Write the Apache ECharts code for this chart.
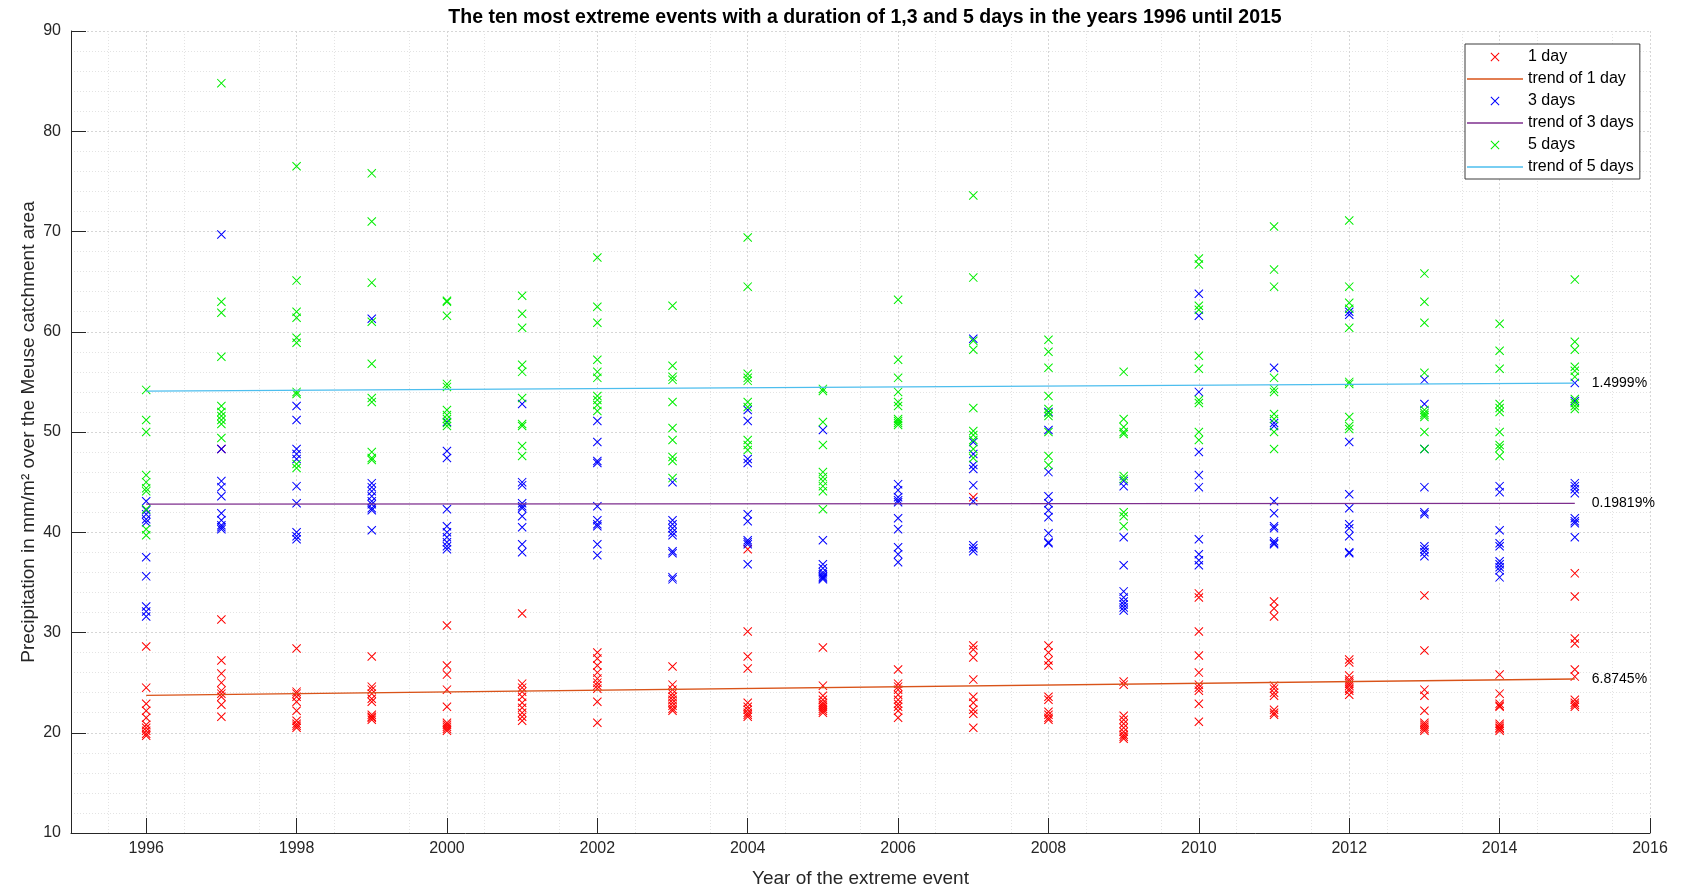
<!DOCTYPE html>
<html><head><meta charset="utf-8">
<script src="https://cdn.jsdelivr.net/npm/echarts@6/dist/echarts.min.js"></script>
<style>html,body{margin:0;padding:0;background:#fff}#c{width:1685px;height:890px}</style>
</head><body><div id="c"></div>
<script>
const years = [1996,1997,1998,1999,2000,2001,2002,2003,2004,2005,2006,2007,2008,2009,2010,2011,2012,2013,2014,2015];
const xTickLabels = [1996,1998,2000,2002,2004,2006,2008,2010,2012,2014,2016];
const yTickLabels = [10,20,30,40,50,60,70,80,90];

const oneDay = [
[28.6,24.5,22.9,22.2,21.5,20.8,20.5,20.2,19.9,19.7],
[48.3,31.3,27.2,25.9,25.0,24.2,23.9,23.6,22.8,21.6],
[28.4,24.1,23.9,23.6,23.1,22.2,21.2,20.9,20.7,20.5],
[27.6,24.6,24.3,23.9,23.4,23.1,21.8,21.6,21.5,21.3],
[30.7,26.7,25.8,24.3,22.6,21.0,20.8,20.6,20.4,20.2],
[31.9,24.9,24.5,24.1,23.6,23.0,22.5,22.0,21.6,21.2],
[28.0,27.4,26.7,26.0,25.4,25.0,24.7,24.4,23.1,21.0],
[26.6,24.8,24.3,23.9,23.6,23.3,23.0,22.7,22.4,22.2],
[38.3,30.1,27.6,26.4,23.0,22.6,22.3,22.0,21.8,21.6],
[28.5,24.7,23.7,23.3,23.0,22.8,22.6,22.4,22.2,22.0],
[26.3,24.9,24.6,24.3,23.8,23.3,22.9,22.6,22.2,21.5],
[43.5,28.7,28.3,27.5,25.3,23.6,23.0,22.3,21.9,20.5],
[28.7,28.0,27.2,26.7,23.6,23.3,22.1,21.8,21.5,21.3],
[25.1,24.8,21.7,21.3,20.9,20.5,20.1,19.8,19.6,19.4],
[33.9,33.5,30.1,27.7,26.0,24.8,24.5,24.2,22.9,21.1],
[33.1,32.4,31.6,24.7,24.4,24.0,23.7,22.3,22.0,21.8],
[27.3,27.0,25.7,25.3,25.1,24.9,24.7,24.4,24.2,23.8],
[33.7,28.2,24.3,23.7,22.2,21.0,20.8,20.6,20.4,20.2],
[25.8,23.9,22.9,22.7,22.6,20.9,20.7,20.5,20.4,20.2],
[35.9,33.6,29.4,28.9,26.3,25.6,23.3,23.0,22.8,22.6]
];
const threeDays = [
[43.1,42.2,41.8,41.3,41.0,37.5,35.6,32.6,32.1,31.6],
[69.7,48.3,45.1,44.5,43.6,41.9,41.2,40.7,40.5,40.3],
[52.6,51.2,48.3,47.8,47.3,44.6,42.9,40.0,39.6,39.3],
[61.3,44.9,44.5,44.1,43.6,43.1,42.8,42.4,42.2,40.2],
[51.0,48.1,47.4,42.3,40.6,40.0,39.5,39.0,38.6,38.3],
[52.8,45.0,44.7,42.9,42.6,42.4,41.6,40.5,38.8,38.0],
[51.1,49.0,47.1,46.9,42.6,41.2,40.8,40.6,38.8,37.7],
[45.0,41.2,40.8,40.4,40.0,39.7,38.1,37.9,35.5,35.3],
[52.2,51.1,47.3,46.9,41.8,41.1,39.2,39.0,38.8,36.8],
[50.2,39.2,36.8,36.4,36.0,35.8,35.6,35.5,35.4,35.3],
[44.8,44.2,43.5,43.2,43.0,41.4,40.3,38.5,37.8,37.0],
[59.3,49.0,47.8,46.7,46.3,44.7,43.1,38.7,38.4,38.1],
[52.0,50.2,46.0,43.6,42.9,42.2,41.5,39.9,39.0,38.9],
[45.1,44.6,39.5,36.7,34.1,33.5,33.1,32.8,32.5,32.2],
[63.8,61.6,54.0,48.0,45.7,44.5,39.3,37.8,37.2,36.7],
[56.4,50.9,50.6,43.1,41.9,40.6,40.4,39.1,38.9,38.8],
[62.0,61.7,49.0,43.8,42.4,40.8,40.4,39.6,38.0,37.9],
[55.2,52.8,48.3,44.5,42.0,41.8,38.6,38.3,38.0,37.6],
[44.6,44.0,40.2,38.9,38.6,37.1,36.8,36.5,36.2,35.5],
[54.9,53.1,44.9,44.6,44.3,43.9,41.4,41.1,40.9,39.5]
];
const fiveDays = [
[54.2,51.2,50.0,45.7,45.0,44.4,44.1,42.3,40.3,39.7],
[84.8,63.0,61.9,57.5,52.6,52.0,51.6,51.2,50.8,49.4],
[76.5,65.1,62.0,61.4,59.4,58.9,54.0,53.8,46.8,46.4],
[75.8,71.0,64.9,61.0,56.8,53.4,53.0,48.0,47.4,47.2],
[63.1,63.0,61.6,54.8,54.5,52.2,51.7,51.3,50.9,50.6],
[63.6,61.8,60.4,56.7,56.0,53.4,50.8,50.6,48.6,47.6],
[67.4,62.5,60.9,57.2,56.0,55.4,53.6,53.2,52.7,52.1],
[62.6,56.6,55.5,55.2,53.0,50.4,49.2,47.5,47.1,45.4],
[69.4,64.5,55.8,55.4,55.1,53.0,52.5,49.2,48.7,48.2],
[54.3,54.1,51.0,48.7,46.0,45.5,45.1,44.6,44.1,42.3],
[63.2,57.2,55.4,54.0,53.0,52.6,51.3,51.1,50.9,50.7],
[73.6,65.4,59.1,58.2,52.4,50.1,49.7,49.2,48.3,47.4],
[59.2,58.0,56.4,53.6,52.3,51.9,51.6,50.0,47.6,46.7],
[56.0,51.3,50.5,50.0,49.8,45.6,45.3,42.0,41.6,40.6],
[67.3,66.7,62.6,62.2,57.6,56.3,53.2,52.9,50.0,49.2],
[70.5,66.2,64.5,55.4,54.3,54.0,51.8,51.3,50.0,48.3],
[71.1,64.5,62.9,62.3,60.4,55.0,54.8,51.5,50.6,50.3],
[65.8,63.0,60.9,55.9,52.2,51.9,51.7,51.5,50.0,48.3],
[60.8,58.1,56.3,52.8,52.4,52.0,50.0,48.7,48.4,47.6],
[65.2,59.0,58.2,56.5,56.1,55.5,53.3,52.9,52.6,52.3]
];
const trendYears = [1996, 2015];
const trend1 = [23.72, 25.36];
const trend3 = [42.80, 42.885];
const trend5 = [54.07, 54.88];
const trendLabels = ['6.8745%', '0.19819%', '1.4999%'];
const seriesNames = ['1 day','trend of 1 day','3 days','trend of 3 days','5 days','trend of 5 days'];

const FONT = 'Liberation Sans, Arial, Helvetica, sans-serif';
const XSYM = 'path://M0,0.8L0.8,0L10,9.2L9.2,10Z M9.2,0L10,0.8L0.8,10L0,9.2Z';
const LINEICON = 'path://M0,0H56V1.3H0Z';

function pts(arr){ const out=[]; arr.forEach((vals,i)=>vals.forEach(v=>out.push([years[i], v]))); return out; }
function line(vals){ return trendYears.map((y,i)=>[y, vals[i]]); }

function scatter(name, data, color){
  return {name, type:'scatter', data: pts(data), symbol: XSYM, symbolSize: 9,
    itemStyle:{color: color, opacity:1}, emphasis:{disabled:true}};
}
function trend(name, vals, color, label){
  return {name, type:'line', data: line(vals), symbol:'none', showSymbol:false,
    lineStyle:{color: color, width:1.3}, itemStyle:{color: color},
    endLabel:{show:true, formatter: label, color:'#000', fontSize:14, fontFamily:FONT, distance:17},
    emphasis:{disabled:true}};
}

const chart = echarts.init(document.getElementById('c'), null, {renderer:'canvas'});
chart.setOption({
  animation:false,
  backgroundColor:'#fff',
  textStyle:{fontFamily:FONT},
  title:{text:'The ten most extreme events with a duration of 1,3 and 5 days in the years 1996 until 2015',
    left:860, textAlign:'center', top:3,
    textStyle:{fontSize:19.5, fontWeight:'bold', color:'#000', fontFamily:FONT}},
  grid:{left:71, right:35, top:31, bottom:57, containLabel:false, outerBoundsMode:'none'},
  legend:{orient:'vertical', left:1465, top:44, itemWidth:56, itemHeight:9, itemGap:6,
    padding:[5,6,4,2], borderColor:'#3c3c3c', borderWidth:1, backgroundColor:'#fff',
    textStyle:{fontSize:16, color:'#000', fontFamily:FONT}, selectedMode:false,
    data: seriesNames.map((n,i)=> i%2 ? {name:n, icon:LINEICON} : {name:n})},
  xAxis:{type:'value', min:1995, max:2016, interval:1,
    name:'Year of the extreme event', nameLocation:'middle', nameGap:36,
    nameTextStyle:{fontSize:19, color:'#262626', fontFamily:FONT},
    axisLine:{show:true, onZero:false, lineStyle:{color:'#262626', width:1}},
    axisTick:{show:true, inside:true, length:15, customValues: xTickLabels, lineStyle:{color:'#262626'}},
    axisLabel:{customValues: xTickLabels, formatter: v => String(v), fontSize:16, color:'#262626', margin:8, fontFamily:FONT},
    splitLine:{show:true, lineStyle:{color:'#d6d6d6', type:[2,2], width:1}},
    minorTick:{show:false, splitNumber:2},
    minorSplitLine:{show:true, lineStyle:{color:'#e3e3e3', type:[1,2], width:1}}},
  yAxis:{type:'value', min:10, max:90, interval:10,
    name:'Precipitation in mm/m\u00B2 over the Meuse catchment area', nameLocation:'middle', nameGap:33,
    nameMoveOverlap:false,
    nameTextStyle:{fontSize:19, color:'#262626', fontFamily:FONT},
    axisLine:{show:true, onZero:false, lineStyle:{color:'#262626', width:1}},
    axisTick:{show:true, inside:true, length:15, lineStyle:{color:'#262626'}},
    axisLabel:{formatter: v => String(v), fontSize:16, color:'#262626', margin:10, fontFamily:FONT},
    splitLine:{show:true, lineStyle:{color:'#d6d6d6', type:[2,2], width:1}},
    minorTick:{show:false, splitNumber:5},
    minorSplitLine:{show:true, lineStyle:{color:'#e3e3e3', type:[1,2], width:1}}},
  series:[
    scatter(seriesNames[0], oneDay, '#ff0000'),
    trend(seriesNames[1], trend1, '#D95319', trendLabels[0]),
    scatter(seriesNames[2], threeDays, '#0000ff'),
    trend(seriesNames[3], trend3, '#7E2F8E', trendLabels[1]),
    scatter(seriesNames[4], fiveDays, '#00ee00'),
    trend(seriesNames[5], trend5, '#4DBEEE', trendLabels[2])
  ]
});
</script></body></html>
